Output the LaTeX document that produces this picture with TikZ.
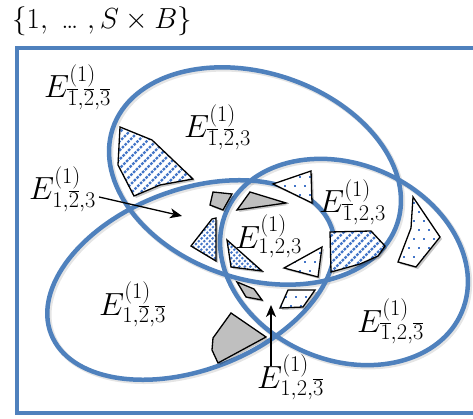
\RequirePackage{fix-cm}
\documentclass[tikz,border=0pt]{standalone}
\usetikzlibrary{arrows.meta}
\definecolor{ellblue}{RGB}{79,129,189}
\definecolor{patblue}{RGB}{68,118,200}
\definecolor{fraggrey}{RGB}{191,191,191}
\tikzset{
  setline/.style={draw=ellblue, line width=4.5pt},
  setshade/.style={draw=black, opacity=0.10, line width=5.5pt},
  fragline/.style={draw=black, line width=1.3pt, line join=miter},
  fragshade/.style={fill=black, opacity=0.22},
  hatchline/.style={draw=patblue, line width=2.4pt, dash pattern=on 2.6pt off 1.3pt},
  checkline/.style={draw=patblue, line width=2.0pt, dash pattern=on 2.2pt off 1.8pt},
  lbl/.style={inner sep=0pt, anchor=base west, font=\fontsize{32}{38}\selectfont},
  ptr/.style={draw=black, line width=1.3pt, -{Stealth[length=12pt,width=10pt,inset=3.5pt]}},
}
\newcommand\myhatchfill{\foreach \c in {0,9,...,900} \draw[hatchline] (\c,0) -- ++(-500,500);}
\newcommand\mycheckfill{\foreach \c in {0,5.5,...,900} \draw[checkline] (\c,0) -- ++(-500,500);}
\newcommand\mygreyfill{\fill[fraggrey] (0,0) rectangle (473,419);}
\newcommand\mydotfill[2]{\foreach \yy [count=\j] in {#2} {\foreach \xx in {#1} {\fill[patblue] ({\xx+5*mod(\j,2)-1.3},{\yy-1.3}) rectangle ++(2.6,2.6);}}}
\newcommand\myfrag[2]{%
  \fill[fragshade, xshift=2pt, yshift=-2pt] #1 -- cycle;
  \fill[white] #1 -- cycle;
  \begin{scope}\clip #1 -- cycle; #2 \end{scope}
  \draw[fragline] #1 -- cycle;
}
\begin{document}
\begin{tikzpicture}[x=1pt, y=-1pt]
\clip (0,0) rectangle (473,419);
\fill[white] (0,0) rectangle (473,419);
% universe
\draw[setline] (17,48) rectangle (500,413);
\node[inner sep=0pt, anchor=base west, font=\fontsize{29}{34}\selectfont] (title) at (12,29) {$\{1,\ \mbox{…}\ ,S\times B\}$};
% set shadows
\begin{scope}[shift={(256.5,177.5)}, rotate=-18.5] \draw[setshade] (0,0) ellipse [x radius=150pt, y radius=103pt]; \end{scope}
\begin{scope}[shift={(192.5,281.5)}, rotate=21] \draw[setshade] (0,0) ellipse [x radius=150pt, y radius=90pt]; \end{scope}
\begin{scope}[shift={(345.5,263.5)}, rotate=-23] \draw[setshade] (0,0) ellipse [x radius=128pt, y radius=98pt]; \end{scope}
% sets
\begin{scope}[shift={(255,176)}, rotate=-18.5] \draw[setline] (0,0) ellipse [x radius=150pt, y radius=103pt]; \end{scope}
\begin{scope}[shift={(191,280)}, rotate=21] \draw[setline] (0,0) ellipse [x radius=150pt, y radius=90pt]; \end{scope}
\begin{scope}[shift={(344,262)}, rotate=-23] \draw[setline] (0,0) ellipse [x radius=128pt, y radius=98pt]; \end{scope}
% fragments
\myfrag{(120,127) -- (152,140) -- (193,179) -- (160,185) -- (134,196) -- (118,165)}{\myhatchfill}
\myfrag{(330,232) -- (371,231) -- (385,246) -- (378,256) -- (360,264) -- (331,272)}{\myhatchfill}
\myfrag{(191,246) -- (212,219) -- (216,218) -- (216,261)}{\mycheckfill}
\myfrag{(227,240) -- (262,271) -- (231,267)}{\mycheckfill}
\myfrag{(273,184) -- (311,171) -- (312,203)}{\mydotfill{270,280,...,315}{168,177,...,206}}
\myfrag{(284,268) -- (322,247) -- (318,277)}{\mydotfill{280,290,...,325}{244,253,...,280}}
\myfrag{(288,290) -- (315,290) -- (303,307) -- (280,308)}{\mydotfill{276,286,...,318}{288,297,...,310}}
\myfrag{(413,197) -- (440,237) -- (416,267) -- (398,262) -- (411,228)}{\mydotfill{394,404,...,444}{194,203,...,270}}
\myfrag{(213,192) -- (232,194) -- (223,210) -- (210,205)}{\mygreyfill}
\myfrag{(250,192) -- (286,203) -- (237,210)}{\mygreyfill}
\myfrag{(237,282) -- (254,289) -- (262,300) -- (246,297)}{\mygreyfill}
\myfrag{(231,313) -- (266,337) -- (218,363) -- (212,350) -- (213,338)}{\mygreyfill}
% labels
\node[lbl] (l1) at (44,98) {$E^{(1)}_{\overline{1},\overline{2},\overline{3}}$};
\node[lbl] (l2) at (184,138) {$E^{(1)}_{\overline{1},\overline{2},3}$};
\node[lbl] (l3) at (29,200) {$E^{(1)}_{1,\overline{2},3}$};
\node[lbl] (l4) at (235,248) {$E^{(1)}_{1,2,3}$};
\node[lbl] (l5) at (319,213) {$E^{(1)}_{\overline{1},2,3}$};
\node[lbl] (l6) at (99,315) {$E^{(1)}_{1,\overline{2},\overline{3}}$};
\node[lbl] (l7) at (357,332) {$E^{(1)}_{\overline{1},2,\overline{3}}$};
\node[lbl] (l8) at (257,388) {$E^{(1)}_{1,2,\overline{3}}$};
% pointers
\coordinate (t3) at (182,216);
\coordinate (s8) at (271,366);
\coordinate (t8) at (271,305);
\draw[ptr] ([xshift=3pt, yshift=3pt]l3.base east) -- (t3);
\draw[ptr] (s8) -- (t8);
\end{tikzpicture}
\end{document}
